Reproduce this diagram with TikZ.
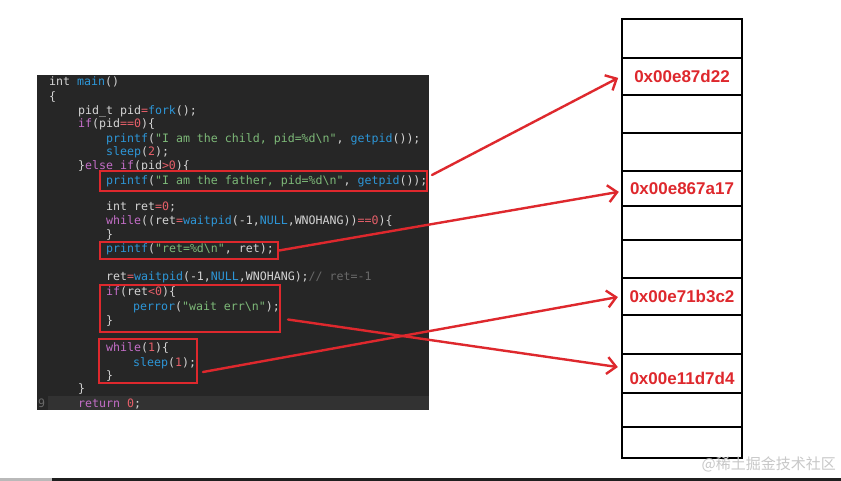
\documentclass[tikz,border=0pt]{standalone}
\usepackage{fontspec}
\setmainfont{Liberation Sans}
\newfontfamily\codefont{DejaVu Sans Mono}
\newfontfamily\cjkfont{Noto Sans CJK SC}
\usetikzlibrary{positioning,arrows.meta,calc}

\definecolor{codebg}{RGB}{38,38,38}
\definecolor{codehl}{RGB}{50,50,50}
\definecolor{codefg}{RGB}{212,212,212}
\definecolor{kwpurple}{RGB}{196,110,200}
\definecolor{fnblue}{RGB}{45,150,215}
\definecolor{strgreen}{RGB}{125,185,120}
\definecolor{numred}{RGB}{230,95,105}
\definecolor{cmtgray}{RGB}{105,105,105}
\definecolor{markred}{RGB}{222,40,45}
\definecolor{wmgray}{RGB}{200,200,200}

\newcommand{\ckw}[1]{\textcolor{kwpurple}{#1}}
\newcommand{\cfn}[1]{\textcolor{fnblue}{#1}}
\newcommand{\cstr}[1]{\textcolor{strgreen}{#1}}
\newcommand{\cnum}[1]{\textcolor{numred}{#1}}
\newcommand{\ccmt}[1]{\textcolor{cmtgray}{#1}}

\begin{document}
\begin{tikzpicture}[
  x=1pt, y=-1pt,
  code/.style={anchor=base west, inner sep=0pt, text=codefg,
               font=\codefont\fontsize{11.6}{14}\selectfont},
  redbox/.style={draw=markred, line width=2pt, inner sep=0pt},
  cell/.style={draw=black, line width=2.4pt, minimum width=120pt, inner sep=0pt,
               text=markred, font=\bfseries\fontsize{17}{20}\selectfont},
  arr/.style={-{Straight Barb[length=9pt,width=17pt]}, markred, line width=2.4pt,
              line cap=round}
]
\useasboundingbox (0,0) rectangle (841,481);
\fill[white] (0,0) rectangle (841,481);
\fill[gray!55] (0,478) rectangle (52,481);
\fill[black!88] (52,478) rectangle (841,481);
% ----- code panel -----
\node[fill=codebg, minimum width=392pt, minimum height=335pt, inner sep=0pt] (panel) at (233,242.5) {};
\node[fill=codehl, minimum width=381pt, minimum height=14pt, inner sep=0pt] (curline) at (238.5,403) {};
\node[code, text=cmtgray] (lnum) at (38,407) {9};
\node[code] (l1)  at (49,86)   {int \cfn{main}()};
\node[code] (l2)  at (49,101)  {\{};
\node[code] (l3)  at (78,115)  {pid\_t pid\cnum{=}\cfn{fork}();};
\node[code] (l4)  at (78,128)  {\ckw{if}(pid\cnum{==}\cnum{0})\{};
\node[code] (l5)  at (106,143) {\cfn{printf}(\cstr{"I am the child, pid=\%d\textbackslash n"}, \cfn{getpid}());};
\node[code] (l6)  at (106,156) {\cfn{sleep}(\cnum{2});};
\node[code] (l7)  at (78,170)  {\}\ckw{else} \ckw{if}(pid\cnum{>}\cnum{0})\{};
\node[code] (l8)  at (106,185) {\cfn{printf}(\cstr{"I am the father, pid=\%d\textbackslash n"}, \cfn{getpid}());};
\node[code] (l9)  at (106,211) {int ret\cnum{=}\cnum{0};};
\node[code] (l10) at (106,225) {\ckw{while}((ret\cnum{=}\cfn{waitpid}(-1,\cfn{NULL},WNOHANG))\cnum{==}\cnum{0})\{};
\node[code] (l11) at (106,239) {\}};
\node[code] (l12) at (106,253) {\cfn{printf}(\cstr{"ret=\%d\textbackslash n"}, ret);};
\node[code] (l13) at (106,280) {ret\cnum{=}\cfn{waitpid}(-1,\cfn{NULL},WNOHANG);\ccmt{// ret=-1}};
\node[code] (l14) at (106,295) {\ckw{if}(ret\cnum{<}\cnum{0})\{};
\node[code] (l15) at (133,310) {\cfn{perror}(\cstr{"wait err\textbackslash n"});};
\node[code] (l16) at (106,324) {\}};
\node[code] (l17) at (106,351) {\ckw{while}(\cnum{1})\{};
\node[code] (l18) at (133,366) {\cfn{sleep}(\cnum{1});};
\node[code] (l19) at (106,379) {\}};
\node[code] (l20) at (78,392)  {\}};
\node[code] (l21) at (78,407)  {\ckw{return} \cnum{0};};
% ----- red marks on the code -----
\node[redbox, minimum width=327pt, minimum height=20pt] (bxfather) at (263.5,181) {};
\node[redbox, minimum width=178pt, minimum height=17pt] (bxret)    at (189,250.5) {};
\node[redbox, minimum width=180pt, minimum height=47pt] (bxerr)    at (190,308.5) {};
\node[redbox, minimum width=98pt,  minimum height=44pt] (bxloop)   at (148,361)   {};
% ----- memory column -----
\foreach \i/\t/\b/\addr in {1/19/58/{}, 2/58/95/0x00e87d22, 3/95/133/{}, 4/133/171/{},
    5/171/206/0x00e867a17, 6/206/240/{}, 7/240/278/{}, 8/278/315/0x00e71b3c2,
    9/315/354/{}, 10/354/393/{}, 11/393/427/{}, 12/427/458/{}}{
  \node[cell, minimum height={(\b-\t)*1pt}] (c\i) at (682,{(\t+\b)/2}) {\addr};
}
\node[text=markred, font=\bfseries\fontsize{17}{20}\selectfont, inner sep=0pt] (a10) at (682,378) {0x00e11d7d4};
% ----- arrows -----
\draw[arr, shorten >=3pt] ([xshift=4pt,yshift=6pt]bxfather.east) -- (c2.west);
\draw[arr, shorten >=2pt] (bxret.east) -- ([yshift=-3pt]c5.west);
\draw[arr, shorten >=3pt] ([xshift=5pt,yshift=-11pt]bxloop.east) -- (c8.west);
\draw[arr, shorten >=3pt] ([xshift=7pt,yshift=-11pt]bxerr.east) -- ([yshift=6pt]c10.west);
% ----- watermark -----
\node[text=wmgray, font=\cjkfont\fontsize{15}{18}\selectfont, anchor=east, inner sep=0pt] (wm) at (836,464) {@稀土掘金技术社区};
\end{tikzpicture}
\end{document}
